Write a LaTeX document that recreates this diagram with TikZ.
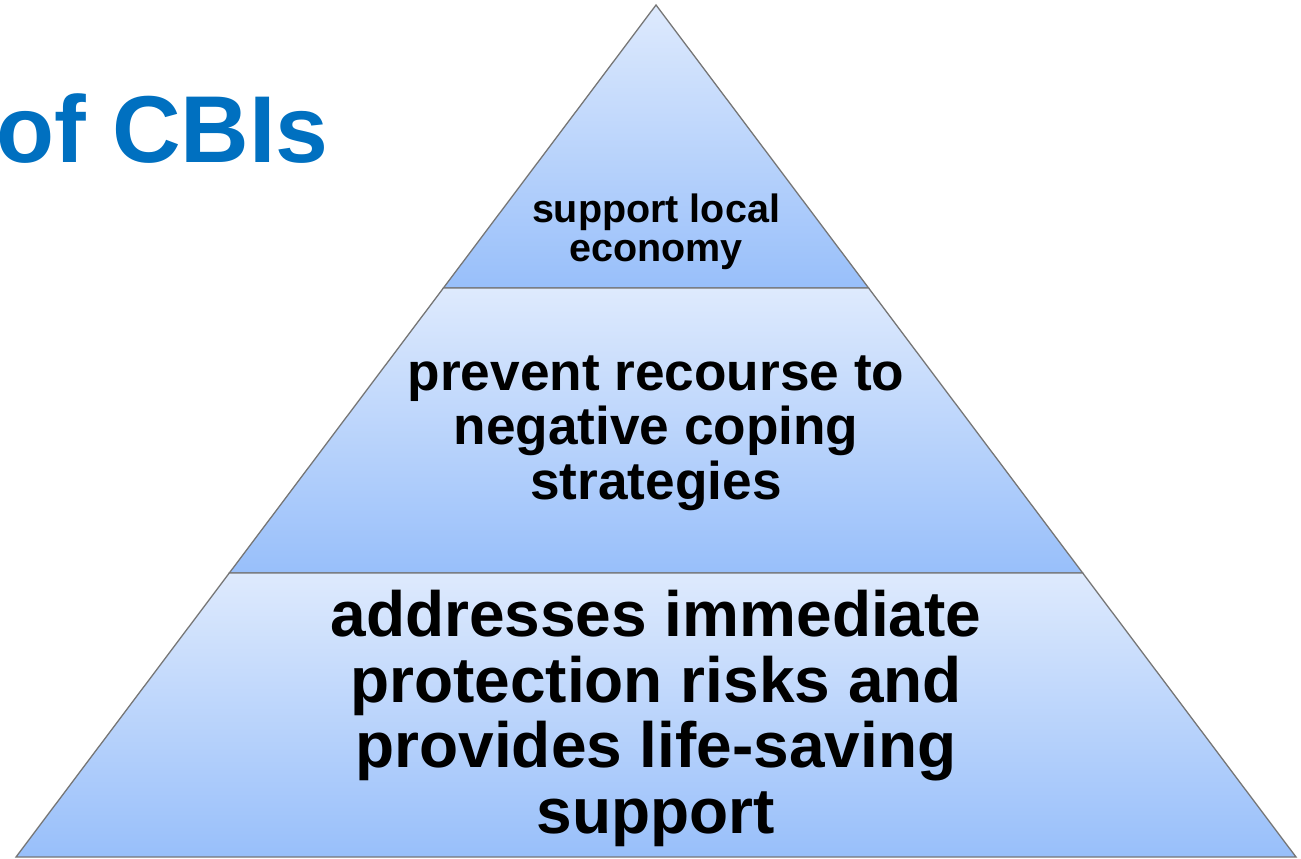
\documentclass[tikz,border=0pt]{standalone}
\usepackage{fontspec}
\setmainfont{Liberation Sans}
\definecolor{tiertop}{RGB}{222,234,253}
\definecolor{tierbot}{RGB}{152,191,250}
\definecolor{edgegray}{RGB}{118,118,118}
\definecolor{titleblue}{RGB}{0,112,192}
\begin{document}
\begin{tikzpicture}[x=1pt,y=-1pt,
  tier/.style={top color=tiertop,bottom color=tierbot,draw=edgegray,line width=1.3pt,line join=miter},
  tiertext/.style={align=center,inner sep=0pt,anchor=base,text=black,font=\bfseries},
  titletext/.style={inner sep=0pt,anchor=base west,text=titleblue,font=\bfseries\fontsize{95}{110}\selectfont}]
\clip (0,0) rectangle (1301,859);

% pyramid corners and tier boundaries
\coordinate (apex) at (656,5);
\coordinate (l1) at (443.4,288);
\coordinate (r1) at (868.6,288);
\coordinate (l2) at (229.3,573);
\coordinate (r2) at (1082.7,573);
\coordinate (l3) at (16,857);
\coordinate (r3) at (1296,857);

% three shaded tiers
\path[tier] (apex) -- (r1) -- (l1) -- cycle;
\path[tier] (l1) -- (r1) -- (r2) -- (l2) -- cycle;
\path[tier] (l2) -- (r2) -- (r3) -- (l3) -- cycle;

% title (runs in from the left edge)
\node[titletext] (title) at (-4,162) {of CBIs};

% tier texts, each placed by the baseline of its last line
\node[tiertext,font=\bfseries\fontsize{39.5}{39}\selectfont] (toptext) at (656,261)
  {support local\\economy};
\node[tiertext,font=\bfseries\fontsize{53.2}{54.5}\selectfont] (midtext) at (656,499)
  {prevent recourse to\\negative coping\\strategies};
\node[tiertext,font=\bfseries\fontsize{64}{65.5}\selectfont] (bottext) at (656,833)
  {addresses immediate\\protection risks and\\provides life-saving\\support};
\end{tikzpicture}
\end{document}
